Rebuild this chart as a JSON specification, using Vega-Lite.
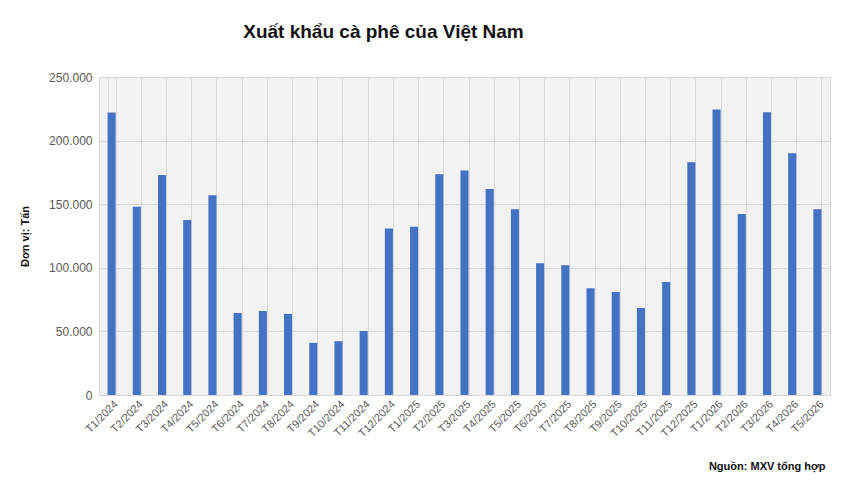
{
  "$schema": "https://vega.github.io/schema/vega-lite/v6.json",
  "width": 731,
  "height": 318,
  "autosize": {"type": "none"},
  "padding": {"left": 99, "top": 77, "right": 20, "bottom": 85},
  "background": "white",
  "config": {
    "locale": {"number": {"decimal": ",", "thousands": ".", "grouping": [3], "currency": ["", ""]}},
    "font": "Liberation Sans",
    "view": {"fill": "#f2f2f2", "stroke": "#d9d9d9", "strokeWidth": 1}
  },
  "title": {
    "text": "Xuất khẩu cà phê của Việt Nam",
    "fontSize": 19,
    "fontWeight": "bold",
    "color": "#111111",
    "anchor": "middle",
    "dx": -81,
    "offset": 29
  },
  "data": {
    "values": [
      {"thang": "T1/2024", "tan": 222000},
      {"thang": "T2/2024", "tan": 148000},
      {"thang": "T3/2024", "tan": 173000},
      {"thang": "T4/2024", "tan": 137500},
      {"thang": "T5/2024", "tan": 157000},
      {"thang": "T6/2024", "tan": 64500},
      {"thang": "T7/2024", "tan": 66000},
      {"thang": "T8/2024", "tan": 63800},
      {"thang": "T9/2024", "tan": 41000},
      {"thang": "T10/2024", "tan": 42300},
      {"thang": "T11/2024", "tan": 50300},
      {"thang": "T12/2024", "tan": 130800},
      {"thang": "T1/2025", "tan": 132200},
      {"thang": "T2/2025", "tan": 173500},
      {"thang": "T3/2025", "tan": 176500},
      {"thang": "T4/2025", "tan": 162000},
      {"thang": "T5/2025", "tan": 146000},
      {"thang": "T6/2025", "tan": 103500},
      {"thang": "T7/2025", "tan": 102000},
      {"thang": "T8/2025", "tan": 84000},
      {"thang": "T9/2025", "tan": 81000},
      {"thang": "T10/2025", "tan": 68300},
      {"thang": "T11/2025", "tan": 88800},
      {"thang": "T12/2025", "tan": 183000},
      {"thang": "T1/2026", "tan": 224500},
      {"thang": "T2/2026", "tan": 142300},
      {"thang": "T3/2026", "tan": 222300},
      {"thang": "T4/2026", "tan": 190000},
      {"thang": "T5/2026", "tan": 146000}
    ]
  },
  "mark": {"type": "bar", "color": "#4472c4"},
  "encoding": {
    "x": {
      "field": "thang",
      "type": "nominal",
      "sort": null,
      "scale": {"paddingInner": 0.68, "paddingOuter": 0.34},
      "axis": {
        "title": "Nguồn: MXV tổng hợp",
        "titleFontSize": 11,
        "titleFontWeight": "bold",
        "titleColor": "#111111",
        "titleAnchor": "end",
        "titleAlign": "right",
        "titleX": 726,
        "titleY": 74,
        "titleBaseline": "alphabetic",
        "labelAngle": -45,
        "labelAlign": "right",
        "labelBaseline": "top",
        "labelFontSize": 11,
        "labelColor": "#595959",
        "labelPadding": 3,
        "ticks": false,
        "grid": true,
        "tickBand": "extent",
        "gridColor": "#d9d9d9",
        "domain": true,
        "domainColor": "#d9d9d9"
      }
    },
    "y": {
      "field": "tan",
      "type": "quantitative",
      "scale": {"domain": [0, 250000]},
      "axis": {
        "title": "Đơn vị: Tấn",
        "titleFontSize": 11,
        "titleFontWeight": "bold",
        "titleColor": "#111111",
        "titleX": -74,
        "titleY": 159,
        "titleAngle": -90,
        "titleAlign": "center",
        "titleBaseline": "middle",
        "values": [0, 50000, 100000, 150000, 200000, 250000],
        "format": ",d",
        "labelFontSize": 12,
        "labelColor": "#595959",
        "labelPadding": 7,
        "ticks": false,
        "domain": false,
        "grid": true,
        "gridColor": "#d9d9d9"
      }
    }
  }
}
